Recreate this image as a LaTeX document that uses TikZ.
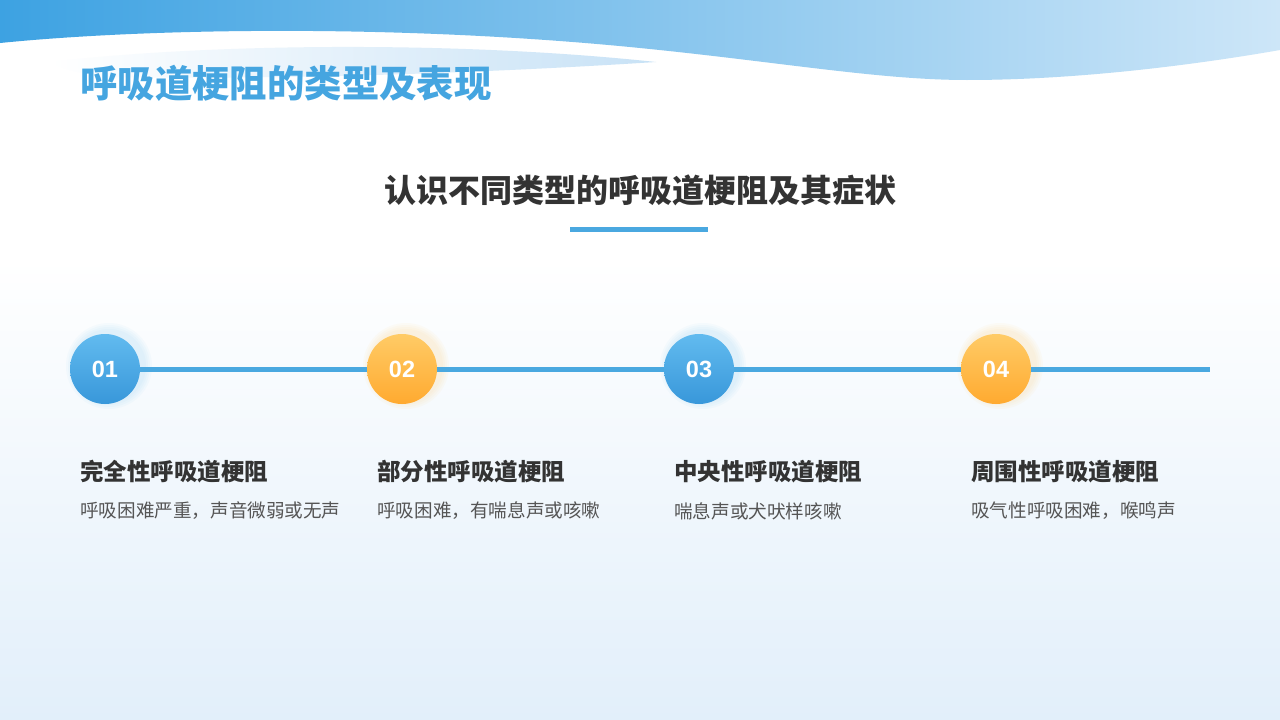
\documentclass[tikz,border=0pt]{standalone}
\usepackage{fontspec}
\newfontfamily\cjk{Noto Sans CJK SC}
\newfontfamily\numfont{Liberation Sans}
\usetikzlibrary{shadings}
\definecolor{bandL}{HTML}{3DA2E2}
\definecolor{bandR}{HTML}{CDE6F8}
\definecolor{lightw}{HTML}{C8E2F6}
\definecolor{titleblue}{HTML}{45A5E0}
\definecolor{linecol}{HTML}{4AA8E0}
\definecolor{bgbot}{HTML}{E2EFFA}
\definecolor{blueA}{HTML}{62BBEF}
\definecolor{blueB}{HTML}{3897DA}
\definecolor{orA}{HTML}{FFCB66}
\definecolor{orB}{HTML}{FFAA30}
\definecolor{dark}{HTML}{333333}
\definecolor{mid}{HTML}{555555}
\tikzset{
  numcirc/.style={circle, minimum size=70pt, inner sep=0pt, text=white,
     font=\numfont\bfseries\fontsize{23.5}{23.5}\selectfont, shading angle=35},
  bluec/.style={numcirc, top color=blueA, bottom color=blueB},
  orc/.style={numcirc, top color=orA, bottom color=orB},
  head/.style={anchor=west, inner sep=0pt, text=dark, font=\cjk\bfseries\fontsize{23.5}{24}\selectfont},
  desc/.style={anchor=west, inner sep=0pt, text=mid, font=\cjk\fontsize{18.6}{19}\selectfont},
  tline/.style={line width=5pt, draw=linecol},
}
\begin{document}
\begin{tikzpicture}[x=1pt,y=-1pt]
\useasboundingbox (0,0) rectangle (1280,720);
% background
\fill[white] (0,0) rectangle (1280,260);
\shade[top color=white, bottom color=bgbot] (0,259) rectangle (1280,720);
% top band
\shade[left color=bandL, right color=bandR]
  (0,0) -- (0,43) .. controls (150,28) and (400,24) .. (640,48)
  .. controls (780,62) and (880,80) .. (967,80)
  .. controls (1080,80) and (1200,64) .. (1280,50) -- (1280,0) -- cycle;
% inner light wave
\shade[left color=white, right color=lightw]
  (50,62) .. controls (200,44) and (450,40) .. (656,62)
  .. controls (500,72) and (300,80) .. (110,77)
  .. controls (85,75) and (65,70) .. (50,62) -- cycle;
% title
\node[anchor=west, inner sep=0pt, text=titleblue, font=\cjk\bfseries\fontsize{37.4}{38}\selectfont] (title) at (80,83) {呼吸道梗阻的类型及表现};
% subtitle
\node[inner sep=0pt, text=dark, font=\cjk\bfseries\fontsize{32}{32}\selectfont] (sub) at (640,190) {认识不同类型的呼吸道梗阻及其症状};
\coordinate (ulA) at (570,229);
\coordinate (ulB) at (708,229);
\draw[tline] (ulA) -- (ulB);
% glows
\foreach \cx/\col in {105/blueA,699/blueA}{
  \foreach \r in {37,39,41,43}{
    \fill[\col, opacity=0.045] (\cx+4,366) circle (\r);
  }
}
\foreach \cx/\col in {402/orA,996/orA}{
  \foreach \r in {37,39,41,43}{
    \fill[\col, opacity=0.055] (\cx+4,366) circle (\r);
  }
}
% circles
\node[bluec] (c1) at (105,369) {01};
\node[orc] (c2) at (402,369) {02};
\node[bluec] (c3) at (699,369) {03};
\node[orc] (c4) at (996,369) {04};
\coordinate (lend) at (1210,369);
\draw[tline] (c1) -- (c2);
\draw[tline] (c2) -- (c3);
\draw[tline] (c3) -- (c4);
\draw[tline] (c4) -- (lend);
% texts
\node[head] (h1) at (80,472) {完全性呼吸道梗阻};
\node[head] (h2) at (377,472) {部分性呼吸道梗阻};
\node[head] (h3) at (674,472) {中央性呼吸道梗阻};
\node[head] (h4) at (971,472) {周围性呼吸道梗阻};
\node[desc] (d1) at (80,511) {呼吸困难严重，声音微弱或无声};
\node[desc] (d2) at (377,511) {呼吸困难，有喘息声或咳嗽};
\node[desc] (d3) at (674,511) {喘息声或犬吠样咳嗽};
\node[desc] (d4) at (971,511) {吸气性呼吸困难，喉鸣声};
\end{tikzpicture}
\end{document}
